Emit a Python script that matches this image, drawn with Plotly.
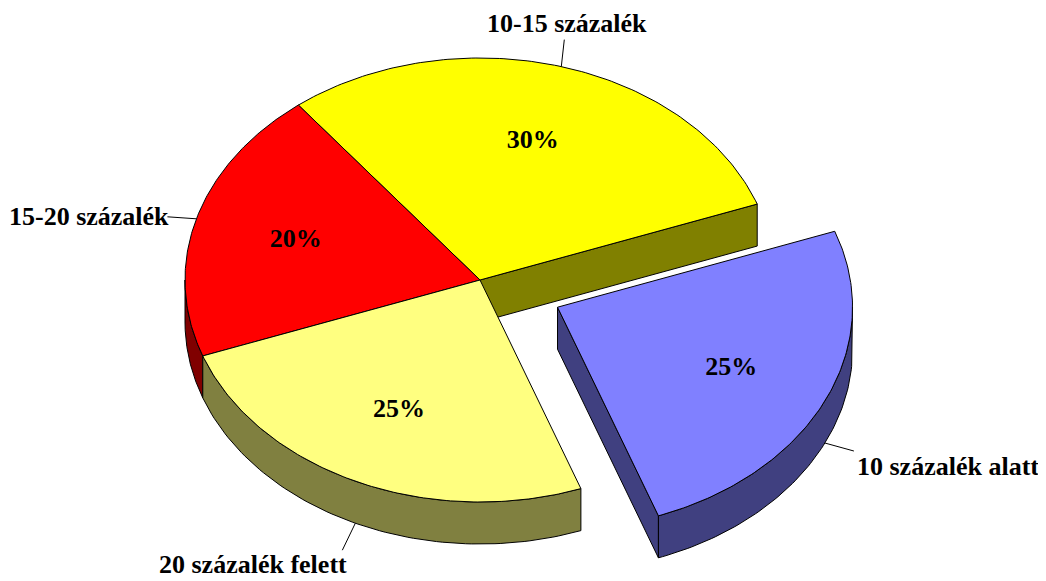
import numpy as np
import plotly.graph_objects as go

# ---- data (clockwise from the top) ----
categories = ["10-15 százalék", "10 százalék alatt", "20 százalék felett", "15-20 százalék"]
values = [30, 25, 25, 20]
pct_labels = ["30%", "25%", "25%", "20%"]

# ---- style ----
top_colors = ["#FFFF00", "#8080FF", "#FFFF80", "#FF0000"]
side_colors = ["#808000", "#404080", "#808040", "#800000"]
pull = [0.0, 0.29, 0.0, 0.0]
CX, CY, RX, RY, H = 480.0, 280.0, 295.0, 222.0, 42.0
START = 128.0
FONT = "Times New Roman, Liberation Serif, serif"
FS = 26
leader_off = [(3, -27), (29, 8), (-13, 27), (-29, -2)]
label_off = [(3, 0, "center", "bottom"), (1, 15, "left", "middle"),
             (7, 14, "right", "middle"), (4, 0, "right", "middle")]

W, HT = 1046, 581
PAGE = 8  # default page margin around the figure
fig = go.Figure()

total = float(sum(values))
slices = []
a = START
for i, v in enumerate(values):
    sweep = v / total * 360.0
    a2 = a
    a1 = a - sweep
    a = a1
    mid = np.radians((a1 + a2) / 2)
    ox = CX + pull[i] * RX * np.cos(mid)
    oy = CY - pull[i] * RY * np.sin(mid)
    slices.append(dict(i=i, a1=a1, a2=a2, mid=mid, ox=ox, oy=oy))


def rim(s, deg, dy=0.0):
    t = np.radians(deg)
    return s["ox"] + RX * np.cos(t), s["oy"] - RY * np.sin(t) + dy


def poly(xs, ys, fill):
    fig.add_trace(go.Scatter(x=list(xs) + [xs[0]], y=list(ys) + [ys[0]], mode="lines",
                             fill="toself", fillcolor=fill,
                             line=dict(color="black", width=1),
                             hoverinfo="skip", showlegend=False))


n = len(slices)
order = sorted(slices, key=lambda s: -np.sin(s["mid"]))
for s in order:
    i = s["i"]
    prev_pulled = pull[(i + 1) % n] > 0 or pull[i] > 0   # neighbour on the a1 side
    next_pulled = pull[(i - 1) % n] > 0 or pull[i] > 0   # neighbour on the a2 side
    # radial faces
    for deg, vis, nb in ((s["a1"], np.cos(np.radians(s["a1"])) > 0, prev_pulled),
                         (s["a2"], np.cos(np.radians(s["a2"])) < 0, next_pulled)):
        if vis and nb:
            x1, y1 = rim(s, deg)
            x2, y2 = rim(s, deg, H)
            poly([s["ox"], x1, x2, s["ox"]], [s["oy"], y1, y2, s["oy"] + H], side_colors[i])
    # outer side
    for k in (-1, 0, 1):
        lo = max(s["a1"], -180 + 360 * k)
        hi = min(s["a2"], 360 * k)
        if hi > lo:
            th = np.linspace(lo, hi, 80)
            xs_t = [rim(s, t)[0] for t in th]
            ys_t = [rim(s, t)[1] for t in th]
            xs = xs_t + xs_t[::-1]
            ys = ys_t + [y + H for y in ys_t[::-1]]
            poly(xs, ys, side_colors[i])
    # top face
    th = np.linspace(s["a1"], s["a2"], 120)
    xs = [s["ox"]] + [rim(s, t)[0] for t in th]
    ys = [s["oy"]] + [rim(s, t)[1] for t in th]
    poly(xs, ys, top_colors[i])

# percent labels
px, py = [], []
for s in slices:
    px.append(s["ox"] + 0.65 * RX * np.cos(s["mid"]))
    py.append(s["oy"] - 0.65 * RY * np.sin(s["mid"]))
fig.add_trace(go.Scatter(x=px, y=py, mode="text", text=pct_labels,
                         textfont=dict(family=FONT, size=FS, color="black", weight="bold"),
                         textposition="middle center", hoverinfo="skip", showlegend=False))

# leader lines and category labels
lx, ly = [], []
for s in slices:
    i = s["i"]
    ax, ay = rim(s, np.degrees(s["mid"]), H if np.sin(s["mid"]) < 0 else 0.0)
    ex, ey = ax + leader_off[i][0], ay + leader_off[i][1]
    lx += [ax, ex, None]
    ly += [ay, ey, None]
    dx, dy, xa, ya = label_off[i]
    fig.add_annotation(x=ex + dx, y=ey + dy, text=categories[i], showarrow=False,
                       xanchor=xa, yanchor=ya,
                       font=dict(family=FONT, size=FS, color="black", weight="bold"))
fig.add_trace(go.Scatter(x=lx, y=ly, mode="lines", line=dict(color="black", width=1),
                         hoverinfo="skip", showlegend=False))

fig.update_layout(width=W, height=HT, margin=dict(l=0, r=0, t=0, b=0),
                  paper_bgcolor="white", plot_bgcolor="white", showlegend=False,
                  xaxis=dict(range=[PAGE, W + PAGE], visible=False, fixedrange=True),
                  yaxis=dict(range=[HT + PAGE, PAGE], visible=False, fixedrange=True))
fig.write_html("out.html")
